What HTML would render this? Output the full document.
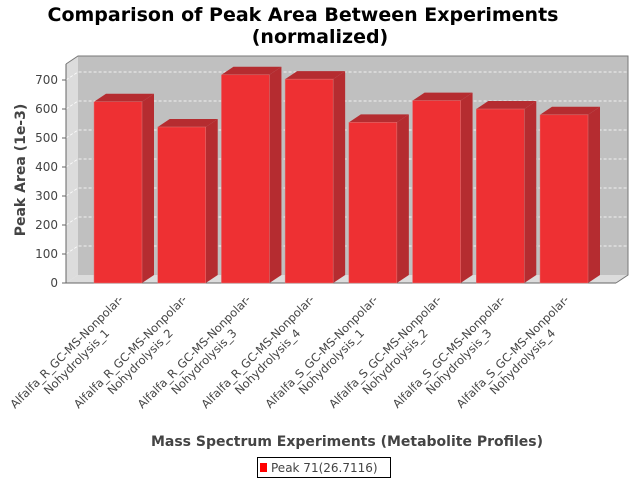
<!DOCTYPE html>
<html><head><meta charset="utf-8"><style>body{margin:0;background:#fff}svg{display:block;font-family:"DejaVu Sans","Liberation Sans",sans-serif}</style></head>
<body>
<svg id="chart" width="640" height="480" xmlns="http://www.w3.org/2000/svg">
<rect width="640" height="480" fill="#fff"/>
<text x="303" y="21" text-anchor="middle" font-size="19" font-weight="bold" fill="#000">Comparison of Peak Area Between Experiments</text>
<text x="320" y="43" text-anchor="middle" font-size="19" font-weight="bold" fill="#000">(normalized)</text>
<g id="plot"></g>
<text transform="translate(25,170) rotate(-90)" text-anchor="middle" font-size="14" font-weight="bold" fill="#444">Peak Area (1e-3)</text>
<text x="347" y="446" text-anchor="middle" font-size="14" font-weight="bold" fill="#444">Mass Spectrum Experiments (Metabolite Profiles)</text>
<g>
<rect x="257.5" y="457.5" width="133" height="20" fill="#fff" stroke="#000"/>
<rect x="260" y="463" width="7" height="9" fill="#ff0000"/>
<text x="271" y="472" font-size="12" fill="#444">Peak 71(26.7116)</text>
</g>
</svg>
<script>
const categories1 = ["Alfalfa_R_GC-MS-Nonpolar-","Alfalfa_R_GC-MS-Nonpolar-","Alfalfa_R_GC-MS-Nonpolar-","Alfalfa_R_GC-MS-Nonpolar-","Alfalfa_S_GC-MS-Nonpolar-","Alfalfa_S_GC-MS-Nonpolar-","Alfalfa_S_GC-MS-Nonpolar-","Alfalfa_S_GC-MS-Nonpolar-"];
const categories2 = ["Nohydrolysis_1","Nohydrolysis_2","Nohydrolysis_3","Nohydrolysis_4","Nohydrolysis_1","Nohydrolysis_2","Nohydrolysis_3","Nohydrolysis_4"];
const values = [625, 538, 718, 703, 554, 629, 600, 580];
const yTicks = [0,100,200,300,400,500,600,700];
const NS="http://www.w3.org/2000/svg";
const g=document.getElementById('plot');
const X0=66,X1=616,Y0=283,DX=12,DY=8,K=0.29;
const y=v=>Y0-v*K;
const margin=28, bw=48;
const step=(X1-X0-2*margin-bw)/(values.length-1);
const xc=i=>X0+margin+bw/2+step*i;
function el(t,a,p){const e=document.createElementNS(NS,t);for(const k in a)e.setAttribute(k,a[k]);(p||g).appendChild(e);return e;}
const topY=56;
let e;
e=el('polygon',{points:`${X0+DX},${topY} ${X1+DX},${topY} ${X1+DX},${Y0-DY} ${X0+DX},${Y0-DY}`,fill:'#c0c0c0'});

e=el('polygon',{points:`${X0},${topY+DY} ${X0+DX},${topY} ${X0+DX},${Y0-DY} ${X0},${Y0}`,fill:'#dcdcdc'});

e=el('polygon',{points:`${X0},${Y0} ${X0+DX},${Y0-DY} ${X1+DX},${Y0-DY} ${X1},${Y0}`,fill:'#dcdcdc'});

yTicks.forEach(t=>{
 if(t>0){
 e=el('polyline',{points:`${X0},${y(t)} ${X0+DX},${y(t)-DY} ${X1+DX},${y(t)-DY}`,fill:'none',stroke:'#fff','stroke-width':0.8,'stroke-dasharray':'3,2'});
 }
 e=el('line',{x1:X0-4,x2:X0,y1:y(t),y2:y(t),stroke:'#666'});
 
 e=el('text',{x:X0-8,y:y(t)+4,'text-anchor':'end','font-size':12,fill:'#444'});e.textContent=t;
 
});
e=el('polyline',{points:`${X0},${topY+DY} ${X0+DX},${topY} ${X1+DX},${topY} ${X1+DX},${Y0-DY} ${X1},${Y0}`,fill:'none',stroke:'#777'});

e=el('polyline',{points:`${X0},${topY+DY} ${X0},${Y0} ${X1},${Y0}`,fill:'none',stroke:'#666'});

values.forEach((v,i)=>{
 const bx=xc(i)-bw/2, by=y(v);
 const bg=el('g',{});
 
 el('polygon',{points:`${bx+bw},${by} ${bx+bw+DX},${by-DY} ${bx+bw+DX},${Y0-DY} ${bx+bw},${Y0}`,fill:'#b52c30'},bg);
 el('polygon',{points:`${bx},${by} ${bx+DX},${by-DY} ${bx+bw+DX},${by-DY} ${bx+bw},${by}`,fill:'#b52c30'},bg);
 el('rect',{x:bx,y:by,width:bw,height:Y0-by,fill:'#ee3033',stroke:'#d77','stroke-width':0.5},bg);
 const lg=el('g',{transform:`translate(${xc(i)+8},298) rotate(-45)`});
 
 const t1=el('text',{x:-80,y:0,'text-anchor':'middle','font-size':11.5,fill:'#444'},lg);t1.textContent=categories1[i];
 const t2=el('text',{x:-80,y:14,'text-anchor':'middle','font-size':11.5,fill:'#444'},lg);t2.textContent=categories2[i];
});
</script>
</body></html>
